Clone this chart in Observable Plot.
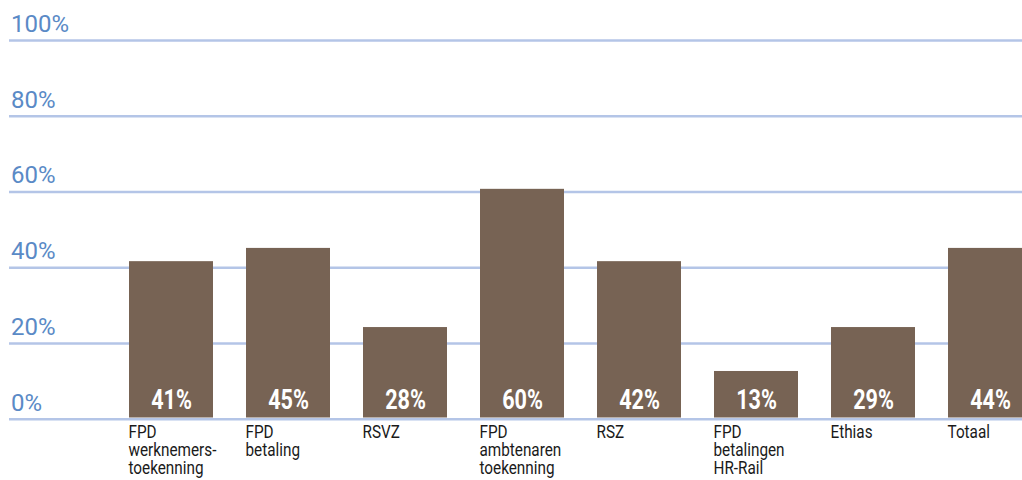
<!DOCTYPE html>
<html>
<head>
<meta charset="utf-8">
<script src="https://cdn.jsdelivr.net/npm/d3@7"></script>
<script src="https://cdn.jsdelivr.net/npm/@observablehq/plot@0.6"></script>
<style>
  html, body { margin: 0; padding: 0; background: #fff; overflow: hidden; }
</style>
</head>
<body>
<div id="chart"></div>
<script>
const categories = [
  "FPD\nwerknemers-\ntoekenning",
  "FPD\nbetaling",
  "RSVZ",
  "FPD\nambtenaren\ntoekenning",
  "RSZ",
  "FPD\nbetalingen\nHR-Rail",
  "Ethias",
  "Totaal"
];
// bar heights as drawn in the picture (percent)
const values = [41.6, 45.1, 24.2, 60.7, 41.6, 12.6, 24.2, 45.1];
// labels printed in the bars
const valueLabels = ["41%", "45%", "28%", "60%", "42%", "13%", "29%", "44%"];
const ticks = [0, 20, 40, 60, 80, 100];
const tickLabels = ["0%", "20%", "40%", "60%", "80%", "100%"];

const data = categories.map((c, i) => ({category: c, value: values[i], label: valueLabels[i]}));
const tickData = ticks.map((t, i) => ({t, label: tickLabels[i]}));

const chart = Plot.plot({
  width: 1022,
  height: 480,
  marginLeft: 9,
  marginRight: 0,
  marginTop: 0,
  marginBottom: 0,
  style: {background: "#fff", overflow: "visible"},
  x: {domain: categories, range: [95.2, 1065.2], padding: 0.283, axis: null},
  y: {domain: [0, 100], range: [418.7, 40], axis: null},
  marks: [
    Plot.ruleY(tickData, {y: "t", stroke: "#b4c5e7", strokeWidth: 2.6}),
    Plot.text(tickData, {
      y: "t", text: "label", frameAnchor: "left", textAnchor: "start",
      lineAnchor: "bottom", dx: 1.5, dy: -8.5,
      fill: "#5a8ac6", fontSize: 24, fontFamily: "Roboto, 'Liberation Sans', sans-serif"
    }),
    Plot.barY(data, {x: "category", y: "value", fill: "#776354", insetBottom: 1.2}),
    Plot.text(data, {
      x: "category", y: () => 0, text: "label", lineAnchor: "bottom", dy: -10.5,
      fill: "#fff", fontSize: 27, fontWeight: "bold",
      fontFamily: "Roboto, 'Liberation Sans', sans-serif",
      ariaDescription: "values"
    }),
    Plot.text(data, {
      x: "category", y: () => 0, text: "category", textAnchor: "start",
      lineAnchor: "top", dx: -43, dy: 6.5, lineHeight: 0.99,
      fill: "#1a1a1a", fontSize: 18,
      fontFamily: "Roboto, 'Liberation Sans', sans-serif",
      ariaDescription: "categories"
    })
  ]
});

// horizontally condense the bar and category labels (the reference uses a condensed face)
function condense(selector, s) {
  chart.querySelectorAll(selector).forEach(el => {
    let t = el.getAttribute("transform");
    if (!t) {
      const x = el.getAttribute("x") || 0, y = el.getAttribute("y") || 0;
      el.removeAttribute("x"); el.removeAttribute("y");
      t = `translate(${x},${y})`;
    }
    el.setAttribute("transform", `${t} scale(${s},1)`);
  });
}
condense('g[aria-description="values"] > text', 0.8);
condense('g[aria-description="categories"] > text', 0.85);

document.getElementById("chart").appendChild(chart);
</script>
</body>
</html>
